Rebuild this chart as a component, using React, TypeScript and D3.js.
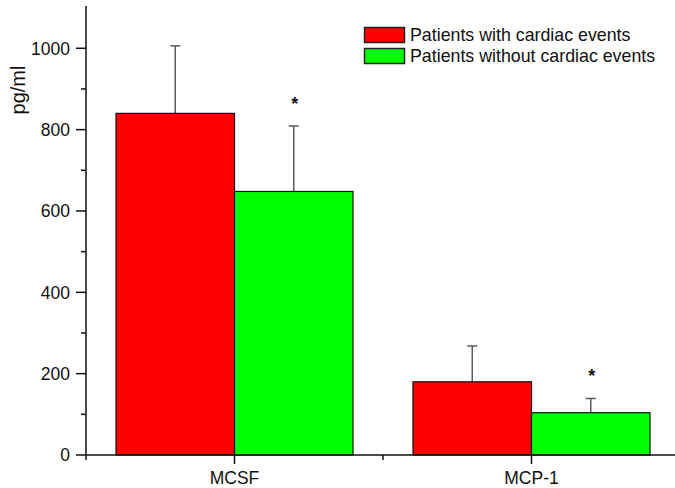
import React from "react";
import * as d3 from "d3";

const categories = ["MCSF", "MCP-1"];
const series = ["Patients with cardiac events", "Patients without cardiac events"];
const colors = ["#ff0000", "#00ff00"];
const means = [
  [840, 648],
  [180, 104],
];
const errors = [
  [166, 161],
  [88, 35],
];
const significant = [
  [false, true],
  [false, true],
];
const yTicks = [0, 200, 400, 600, 800, 1000];
const yMinorTicks = [100, 300, 500, 700, 900];
const yLabel = "pg/ml";

const W = 675;
const H = 488;
const FONT = "'Liberation Sans', Arial, Helvetica, sans-serif";

export default function App() {
  const y = d3.scaleLinear().domain([0, 1104]).range([455, 6]);
  const x0 = d3.scaleBand<string>().domain(categories).range([86, 680]).paddingInner(0).paddingOuter(0);
  const x1 = d3
    .scaleBand<string>()
    .domain(series)
    .range([0, x0.bandwidth()])
    .paddingInner(0)
    .paddingOuter(0.253);
  const y0 = y(0);
  const bandEdges = [86, ...categories.map((c) => (x0(c) as number) + x0.bandwidth())];

  return (
    <svg
      width={W}
      height={H}
      style={{ position: "absolute", left: 0, top: 0, background: "#fff" }}
      fontFamily={FONT}
    >
      <rect x={0} y={0} width={W} height={H} fill="#fff" />
      {/* bars */}
      {categories.map((c, ci) =>
        series.map((s, si) => {
          const bx = (x0(c) as number) + (x1(s) as number);
          const bw = x1.bandwidth();
          const v = means[ci][si];
          const cx = bx + bw / 2;
          const top = y(v + errors[ci][si]);
          return (
            <g key={c + s}>
              <line x1={cx} x2={cx} y1={y(v)} y2={top} stroke="#5a5a5a" strokeWidth={1.5} />
              <line x1={cx - 5} x2={cx + 5} y1={top} y2={top} stroke="#5a5a5a" strokeWidth={1.5} />
              <rect x={bx} y={y(v)} width={bw} height={y0 - y(v)} fill={colors[si]} stroke="#111" strokeWidth={1.2} />
              {significant[ci][si] && (
                <text x={cx + 1} y={top - 16} textAnchor="middle" fontSize={18} fontWeight="bold" fill="#111">
                  *
                </text>
              )}
            </g>
          );
        })
      )}
      {/* y axis */}
      <line x1={86} x2={86} y1={y(1104)} y2={y0 + 5} stroke="#111" strokeWidth={1.5} />
      {yTicks.map((t) => (
        <g key={"yt" + t}>
          <line x1={76} x2={86} y1={y(t)} y2={y(t)} stroke="#111" strokeWidth={1.5} />
          <text x={70} y={y(t)} dy="0.36em" textAnchor="end" fontSize={17.5} fill="#111">
            {t}
          </text>
        </g>
      ))}
      {yMinorTicks.map((t) => (
        <line key={"ym" + t} x1={81} x2={86} y1={y(t)} y2={y(t)} stroke="#111" strokeWidth={1.5} />
      ))}
      {/* x axis */}
      <line x1={86} x2={W} y1={y0} y2={y0} stroke="#111" strokeWidth={1.5} />
      {categories.map((c) => {
        const cx = (x0(c) as number) + x0.bandwidth() / 2;
        return (
          <g key={"xt" + c}>
            <line x1={cx} x2={cx} y1={y0} y2={y0 + 9} stroke="#111" strokeWidth={1.5} />
            <text x={cx} y={484} textAnchor="middle" fontSize={17.5} fill="#111">
              {c}
            </text>
          </g>
        );
      })}
      {bandEdges
        .filter((e) => e > 87 && e < W)
        .map((e) => (
          <line key={"xm" + e} x1={e} x2={e} y1={y0} y2={y0 + 5} stroke="#111" strokeWidth={1.5} />
        ))}
      {/* y label */}
      <text transform="translate(25,90) rotate(-90)" textAnchor="middle" fontSize={20} fill="#111">
        {yLabel}
      </text>
      {/* legend */}
      {series.map((s, si) => (
        <g key={"lg" + s}>
          <rect x={364.5} y={27.5 + si * 21} width={40} height={15} fill={colors[si]} stroke="#222" strokeWidth={1.5} />
          <text x={410} y={40.5 + si * 21} fontSize={17.8} fill="#111">
            {s}
          </text>
        </g>
      ))}
    </svg>
  );
}
